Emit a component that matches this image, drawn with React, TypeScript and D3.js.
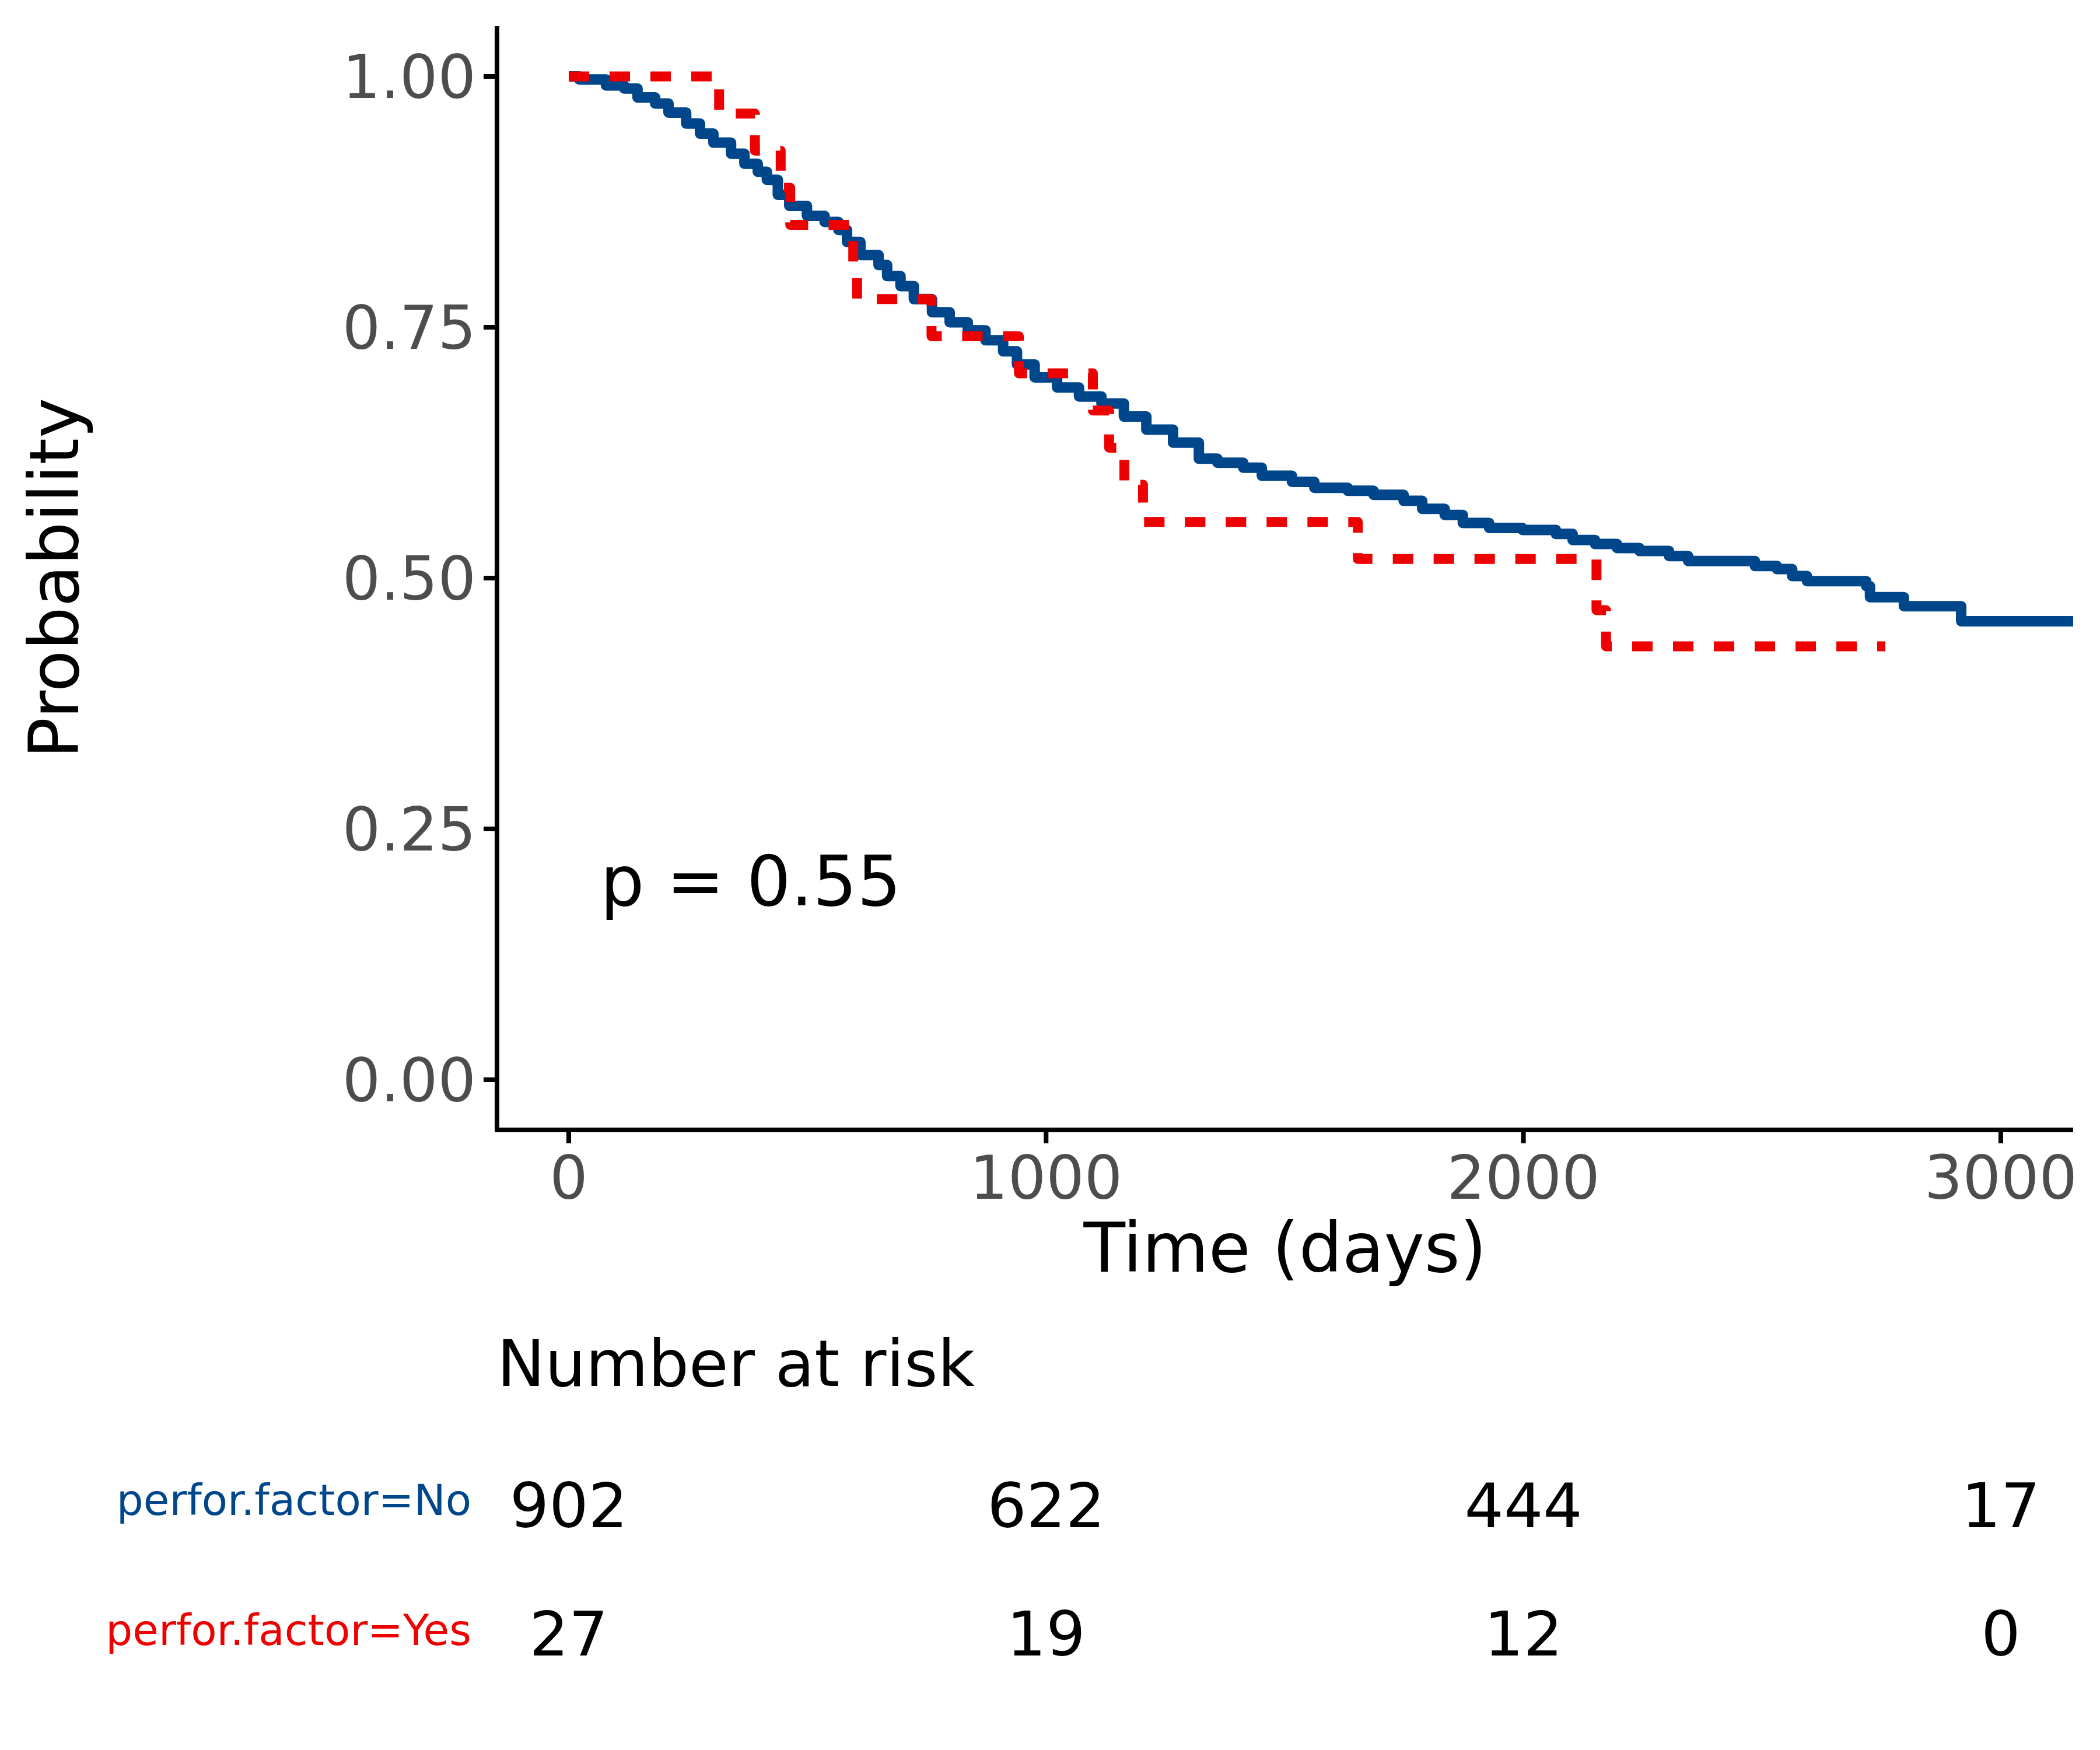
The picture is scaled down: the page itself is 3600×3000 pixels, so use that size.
import { useMemo } from "react"
import * as d3 from "d3"

// Kaplan-Meier estimates: [time in days, survival probability]
const survNo: [number, number][] = [
  [0, 1], [22, 0.997], [78, 0.991], [116, 0.988], [144, 0.979], [181, 0.973], [209, 0.964],
  [246, 0.953], [275, 0.943], [303, 0.934], [340, 0.923], [368, 0.913], [396, 0.905],
  [415, 0.897], [438, 0.882], [462, 0.871], [499, 0.861], [536, 0.855], [565, 0.847],
  [583, 0.835], [611, 0.822], [649, 0.812], [667, 0.801], [695, 0.791], [723, 0.778],
  [761, 0.765], [798, 0.755], [836, 0.747], [873, 0.737], [910, 0.726], [939, 0.713],
  [976, 0.7], [1023, 0.69], [1069, 0.681], [1116, 0.674], [1163, 0.661], [1210, 0.648],
  [1266, 0.635], [1320, 0.619], [1359, 0.615], [1413, 0.61], [1452, 0.602], [1515, 0.596],
  [1562, 0.59], [1632, 0.587], [1686, 0.583], [1749, 0.577], [1788, 0.569], [1835, 0.563],
  [1873, 0.555], [1928, 0.55], [1998, 0.548], [2068, 0.544], [2103, 0.538], [2150, 0.534],
  [2196, 0.53], [2243, 0.527], [2305, 0.522], [2345, 0.517], [2485, 0.512], [2531, 0.509],
  [2563, 0.502], [2594, 0.497], [2718, 0.492], [2726, 0.481], [2797, 0.472], [2917, 0.457],
  [3160, 0.457],
]

const survYes: [number, number][] = [
  [0, 1], [315, 0.963], [390, 0.926], [444, 0.889], [464, 0.852], [596, 0.815], [604, 0.778],
  [760, 0.741], [943, 0.704], [1098, 0.667], [1132, 0.63], [1164, 0.593], [1203, 0.556],
  [1653, 0.519], [2153, 0.468], [2173, 0.432], [2758, 0.432],
]

const xTicks = [0, 1000, 2000, 3000]
const yTicks = [0, 0.25, 0.5, 0.75, 1]

const riskTimes = [0, 1000, 2000, 3000]
const riskNo = [902, 622, 444, 17]
const riskYes = [27, 19, 12, 0]

const strata = ["perfor.factor=No", "perfor.factor=Yes"]
const colors = ["#00468B", "#ED0000"]
const pLabel = "p = 0.55"

const FONT = "DejaVu Sans"

export default function App() {
  const x = useMemo(() => d3.scaleLinear().domain([-150.3, 3151.6]).range([852, 3554]), [])
  const y = useMemo(() => d3.scaleLinear().domain([-0.05, 1.05]).range([1937, 45]), [])

  const line = d3
    .line<[number, number]>()
    .x((d) => x(d[0]))
    .y((d) => y(d[1]))
    .curve(d3.curveStepAfter)

  const [x0, x1] = x.range()
  const [y0, y1] = y.range()

  return (
    <div style={{ position: "absolute", left: 0, top: 0 }}>
      <svg width={3600} height={3000} style={{ display: "block", background: "#fff" }} fontFamily={FONT}>
        <defs>
          <clipPath id="panel">
            <rect x={x0} y={y1} width={x1 - x0} height={y0 - y1} />
          </clipPath>
        </defs>

        {/* curves */}
        <g clipPath="url(#panel)">
          <path d={line(survNo) ?? ""} fill="none" stroke={colors[0]} strokeWidth={18} strokeLinejoin="round" />
          <path
            d={line(survYes) ?? ""}
            fill="none"
            stroke={colors[1]}
            strokeWidth={17}
            strokeLinejoin="round"
            strokeDasharray="35,35"
          />
        </g>

        {/* axes */}
        <line x1={x0} x2={x0} y1={y1} y2={y0 + 4} stroke="#000" strokeWidth={8} />
        <line x1={x0} x2={x1} y1={y0} y2={y0} stroke="#000" strokeWidth={8} />
        {yTicks.map((t) => (
          <g key={`y${t}`}>
            <line x1={x0 - 23} x2={x0} y1={y(t)} y2={y(t)} stroke="#000" strokeWidth={8} />
            <text x={816} y={y(t)} dy="0.36em" textAnchor="end" fontSize={103} fill="#4D4D4D">
              {d3.format(".2f")(t)}
            </text>
          </g>
        ))}
        {xTicks.map((t) => (
          <g key={`x${t}`}>
            <line x1={x(t)} x2={x(t)} y1={y0} y2={y0 + 23} stroke="#000" strokeWidth={8} />
            <text x={x(t)} y={2055} textAnchor="middle" fontSize={103} fill="#4D4D4D">
              {t}
            </text>
          </g>
        ))}

        {/* axis titles */}
        <text x={(x0 + x1) / 2} y={2180} textAnchor="middle" fontSize={117} fill="#000">
          Time (days)
        </text>
        <text
          transform={`translate(134,${(y0 + y1) / 2}) rotate(-90)`}
          textAnchor="middle"
          fontSize={117}
          fill="#000"
        >
          Probability
        </text>

        {/* p-value */}
        <text x={x(66)} y={1552} fontSize={119} fill="#000">
          {pLabel}
        </text>

        {/* risk table */}
        <text x={852} y={2376} fontSize={110} fill="#000">
          Number at risk
        </text>
        <text x={808} y={2597} textAnchor="end" fontSize={72.5} fill={colors[0]}>
          {strata[0]}
        </text>
        <text x={808} y={2820} textAnchor="end" fontSize={72.5} fill={colors[1]}>
          {strata[1]}
        </text>
        {riskTimes.map((t, i) => (
          <g key={`r${t}`}>
            <text x={x(t)} y={2618} textAnchor="middle" fontSize={106} fill="#000">
              {riskNo[i]}
            </text>
            <text x={x(t)} y={2838} textAnchor="middle" fontSize={106} fill="#000">
              {riskYes[i]}
            </text>
          </g>
        ))}
      </svg>
    </div>
  )
}
